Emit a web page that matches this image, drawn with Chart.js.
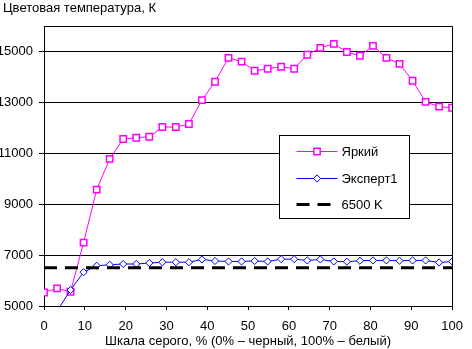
<!DOCTYPE html>
<html>
<head>
<meta charset="utf-8">
<script src="https://cdn.jsdelivr.net/npm/chart.js@4/dist/chart.umd.min.js"></script>
<style>
  html, body { margin: 0; padding: 0; background: #fff; }
</style>
</head>
<body>
<canvas id="chart" width="472" height="349"></canvas>
<script>
// gray levels, % (0% - black, 100% - white)
const grayLevels = [0, 3.2, 6.5, 9.7, 12.9, 16.1, 19.4, 22.6, 25.8, 29, 32.3, 35.5,
    38.7, 41.9, 45.2, 48.4, 51.6, 54.8, 58.1, 61.3, 64.5, 67.7, 71, 74.2,
    77.4, 80.6, 83.9, 87.1, 90.3, 93.5, 96.8, 100];

const brightName = "Яркий";
const brightTemp = [5530, 5690, 5560, 7490, 9570, 10780, 11560, 11610, 11650, 12030, 12030, 12150,
    13090, 13810, 14750, 14600, 14240, 14320, 14400, 14320, 14870, 15140, 15300, 14980,
    14830, 15220, 14750, 14510, 13850, 13020, 12830, 12790];

const expertName = "Эксперт1";
const expertTemp = [3500, 4800, 5630, 6330, 6580, 6620, 6650, 6650, 6690, 6720, 6720, 6720,
    6830, 6770, 6750, 6750, 6770, 6750, 6840, 6840, 6790, 6830, 6750, 6740,
    6780, 6790, 6790, 6780, 6790, 6790, 6710, 6750];

const refName = "6500 K";
const refX = [0, 100];
const refTemp = [6500, 6500];

const yTicks = [5000, 7000, 9000, 11000, 13000, 15000];
const xTicks = [0, 10, 20, 30, 40, 50, 60, 70, 80, 90, 100];

const titleText = "Цветовая температура, К";
const xTitleText = "Шкала серого, % (0% – черный, 100% – белый)";

const FONT = "'Liberation Sans', Arial, sans-serif";

function pts(xs, ys) {
    return xs.map((x, i) => ({ x: x, y: ys[i] }));
}

// frame, title and the boxed legend inside the plot
const decor = {
    id: 'decor',
    afterDatasetsDraw(chart) {
        const ctx = chart.ctx;
        const a = chart.chartArea;
        ctx.save();
        ctx.strokeStyle = '#000';
        ctx.lineWidth = 1;
        ctx.beginPath();
        ctx.moveTo(a.left, Math.round(a.top) + 0.5);
        ctx.lineTo(Math.round(a.right) + 0.5, Math.round(a.top) + 0.5);
        ctx.lineTo(Math.round(a.right) + 0.5, a.bottom);
        ctx.stroke();

        // legend box
        const bx = Math.round(a.left + 235) + 0.5, by = Math.round(a.top + 109) + 0.5;
        const bw = 130, bh = 83;
        ctx.fillStyle = '#fff';
        ctx.fillRect(bx, by, bw, bh);
        ctx.strokeRect(bx, by, bw, bh);
        ctx.font = '13px ' + FONT;
        ctx.textBaseline = 'middle';
        const rows = [15, 42, 68];
        chart.data.datasets.forEach((ds, i) => {
            const y = Math.round(by + rows[i]);
            const x0 = bx + 17, x1 = bx + 58;
            ctx.save();
            ctx.strokeStyle = ds.borderColor;
            ctx.lineWidth = ds.borderWidth;
            ctx.setLineDash(ds.borderDash || []);
            ctx.beginPath();
            ctx.moveTo(x0, y + (ds.borderWidth % 2 ? 0.5 : 0));
            ctx.lineTo(x1, y + (ds.borderWidth % 2 ? 0.5 : 0));
            ctx.stroke();
            ctx.restore();
            if (ds.pointRadius > 0) {
                ctx.save();
                ctx.fillStyle = '#fff';
                ctx.strokeStyle = ds.borderColor;
                ctx.lineWidth = ds.pointBorderWidth;
                Chart.helpers.drawPoint(ctx, {
                    pointStyle: ds.pointStyle,
                    radius: ds.pointRadius,
                    borderWidth: ds.pointBorderWidth
                }, Math.round((x0 + x1) / 2), y + 0.5);
                ctx.restore();
            }
            ctx.fillStyle = '#000';
            ctx.textAlign = 'left';
            ctx.fillText(ds.label, bx + 62, y + 1);
        });

        // chart title
        ctx.font = '13px ' + FONT;
        ctx.fillStyle = '#000';
        ctx.textAlign = 'left';
        ctx.textBaseline = 'middle';
        ctx.fillText(titleText, 3, 8);
        ctx.restore();
    }
};

Chart.defaults.font.family = FONT;
Chart.defaults.font.size = 13;
Chart.defaults.color = '#000';

new Chart(document.getElementById('chart'), {
    type: 'line',
    data: {
        datasets: [
            {
                label: brightName,
                data: pts(grayLevels, brightTemp),
                borderColor: '#ff00ff',
                borderWidth: 1,
                pointStyle: 'rect',
                pointRadius: 4.5,
                pointBorderWidth: 1.5,
                pointBackgroundColor: '#fff',
                pointBorderColor: '#ff00ff',
                order: 3
            },
            {
                label: expertName,
                data: pts(grayLevels, expertTemp),
                borderColor: '#0000ff',
                borderWidth: 1,
                pointStyle: 'rectRot',
                pointRadius: 3.6,
                pointBorderWidth: 1,
                pointBackgroundColor: '#fff',
                pointBorderColor: '#0000ff',
                order: 2
            },
            {
                label: refName,
                data: pts(refX, refTemp),
                borderColor: '#000',
                borderWidth: 3,
                borderDash: [13, 8],
                pointRadius: 0,
                order: 1
            }
        ]
    },
    options: {
        responsive: false,
        animation: false,
        devicePixelRatio: 1,
        layout: { padding: { top: 26, right: 10, left: 0, bottom: 0 } },
        plugins: {
            legend: { display: false },
            tooltip: { enabled: false }
        },
        scales: {
            x: {
                type: 'linear',
                min: 0,
                max: 100,
                afterBuildTicks: s => { s.ticks = xTicks.map(v => ({ value: v })); },
                afterFit: s => { s.height = 43; },
                grid: { drawOnChartArea: false, drawTicks: true, tickLength: 4, color: '#000' },
                border: { color: '#000', width: 1 },
                ticks: { padding: 9, maxRotation: 0, callback: v => String(v) },
                title: {
                    display: true,
                    text: xTitleText,
                    padding: { top: 0, bottom: 0 }
                }
            },
            y: {
                min: 5000,
                max: 16000,
                afterBuildTicks: s => { s.ticks = yTicks.map(v => ({ value: v })); },
                afterFit: s => { s.width = 44; },
                grid: { color: '#000', lineWidth: 1, tickLength: 5 },
                border: { color: '#000', width: 1 },
                ticks: { padding: 6, callback: v => String(v) }
            }
        }
    },
    plugins: [decor]
});
</script>
</body>
</html>
